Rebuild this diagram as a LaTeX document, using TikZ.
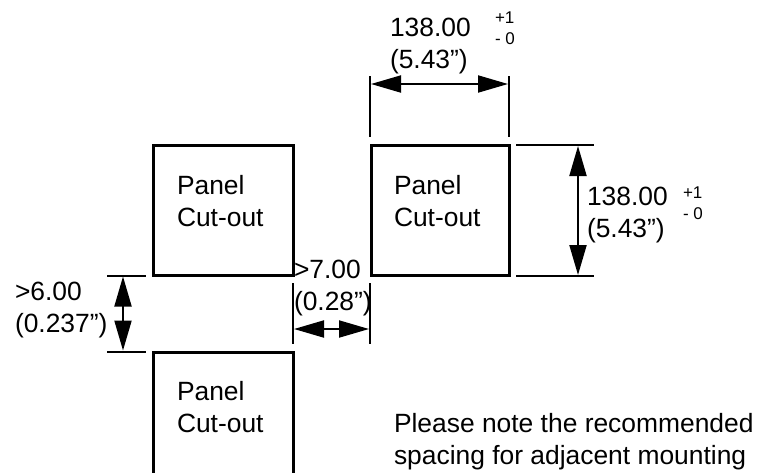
\documentclass[tikz,border=0pt]{standalone}
\usepackage{fontspec}
\setmainfont{Liberation Sans}
\usetikzlibrary{arrows.meta}
\tikzset{
  x=1pt,y=-1pt,
  cutout/.style={draw=black,line width=3pt,minimum width=138pt,minimum height=130pt,inner sep=0pt,outer sep=0pt,anchor=north west},
  extline/.style={draw=black,line width=2pt},
  dimline/.style={draw=black,line width=2pt,{Triangle[length=30pt,width=17pt]}-{Triangle[length=30pt,width=17pt]},shorten >=0pt,shorten <=0pt},
  maintext/.style={inner sep=0pt,outer sep=0pt,anchor=base west,align=left,text=black,font=\fontsize{26.4}{32}\selectfont},
  tolerance/.style={inner sep=0pt,outer sep=0pt,anchor=base west,align=left,text=black,font=\fontsize{17}{21}\selectfont},
}
\begin{document}
\begin{tikzpicture}
\useasboundingbox (0,0) rectangle (759,472);
\clip (0,0) rectangle (759,472);
% panel cut-outs
\node[cutout,minimum width=140pt] (boxA) at (153,145) {};
\node[cutout] (boxB) at (371,145) {};
\node[cutout,minimum width=140pt,minimum height=160pt] (boxC) at (153,352) {};
% top dimension
\coordinate (t1a) at (370,76); \coordinate (t1b) at (370,137);
\coordinate (t2a) at (509,76); \coordinate (t2b) at (509,137);
\draw[extline] (t1a) -- (t1b);
\draw[extline] (t2a) -- (t2b);
\coordinate (ta) at (371,84); \coordinate (tb) at (508,84);
\draw[dimline] (ta) -- (tb);
% right dimension
\coordinate (r1a) at (516,145); \coordinate (r1b) at (594,145);
\coordinate (r2a) at (516,275.5); \coordinate (r2b) at (594,275.5);
\draw[extline] (r1a) -- (r1b);
\draw[extline] (r2a) -- (r2b);
\coordinate (ra) at (578,146); \coordinate (rb) at (578,275);
\draw[dimline] (ra) -- (rb);
% left gap
\coordinate (l1a) at (107,275.5); \coordinate (l1b) at (146,275.5);
\coordinate (l2a) at (107,351.5); \coordinate (l2b) at (146,351.5);
\draw[extline] (l1a) -- (l1b);
\draw[extline] (l2a) -- (l2b);
\coordinate (la) at (123,276.5); \coordinate (lb) at (123,350.5);
\draw[dimline] (la) -- (lb);
% centre gap
\coordinate (c1a) at (293,283); \coordinate (c1b) at (293,344);
\coordinate (c2a) at (370,283); \coordinate (c2b) at (370,344);
\draw[extline] (c1a) -- (c1b);
\draw[extline] (c2a) -- (c2b);
\coordinate (ca) at (294,329); \coordinate (cb) at (369,329);
\draw[dimline] (ca) -- (cb);
% texts
\node[maintext] (pa) at (177,226) {Panel\\Cut-out};
\node[maintext] (pb) at (394,226) {Panel\\Cut-out};
\node[maintext] (pc) at (177,432) {Panel\\Cut-out};
\node[maintext] (dt) at (390,68) {138.00\\(5.43”)};
\node[tolerance] (dtt) at (495,44) {+1\\- 0};
\node[maintext] (dr) at (587,237) {138.00\\(5.43”)};
\node[tolerance] (drt) at (683,219) {+1\\- 0};
\node[maintext] (dl) at (15,332) {>6.00\\(0.237”)};
\node[maintext] (dc) at (294,310) {>7.00\\(0.28”)};
\node[maintext] (note) at (394,464) {Please note the recommended\\spacing for adjacent mounting};
\end{tikzpicture}
\end{document}
